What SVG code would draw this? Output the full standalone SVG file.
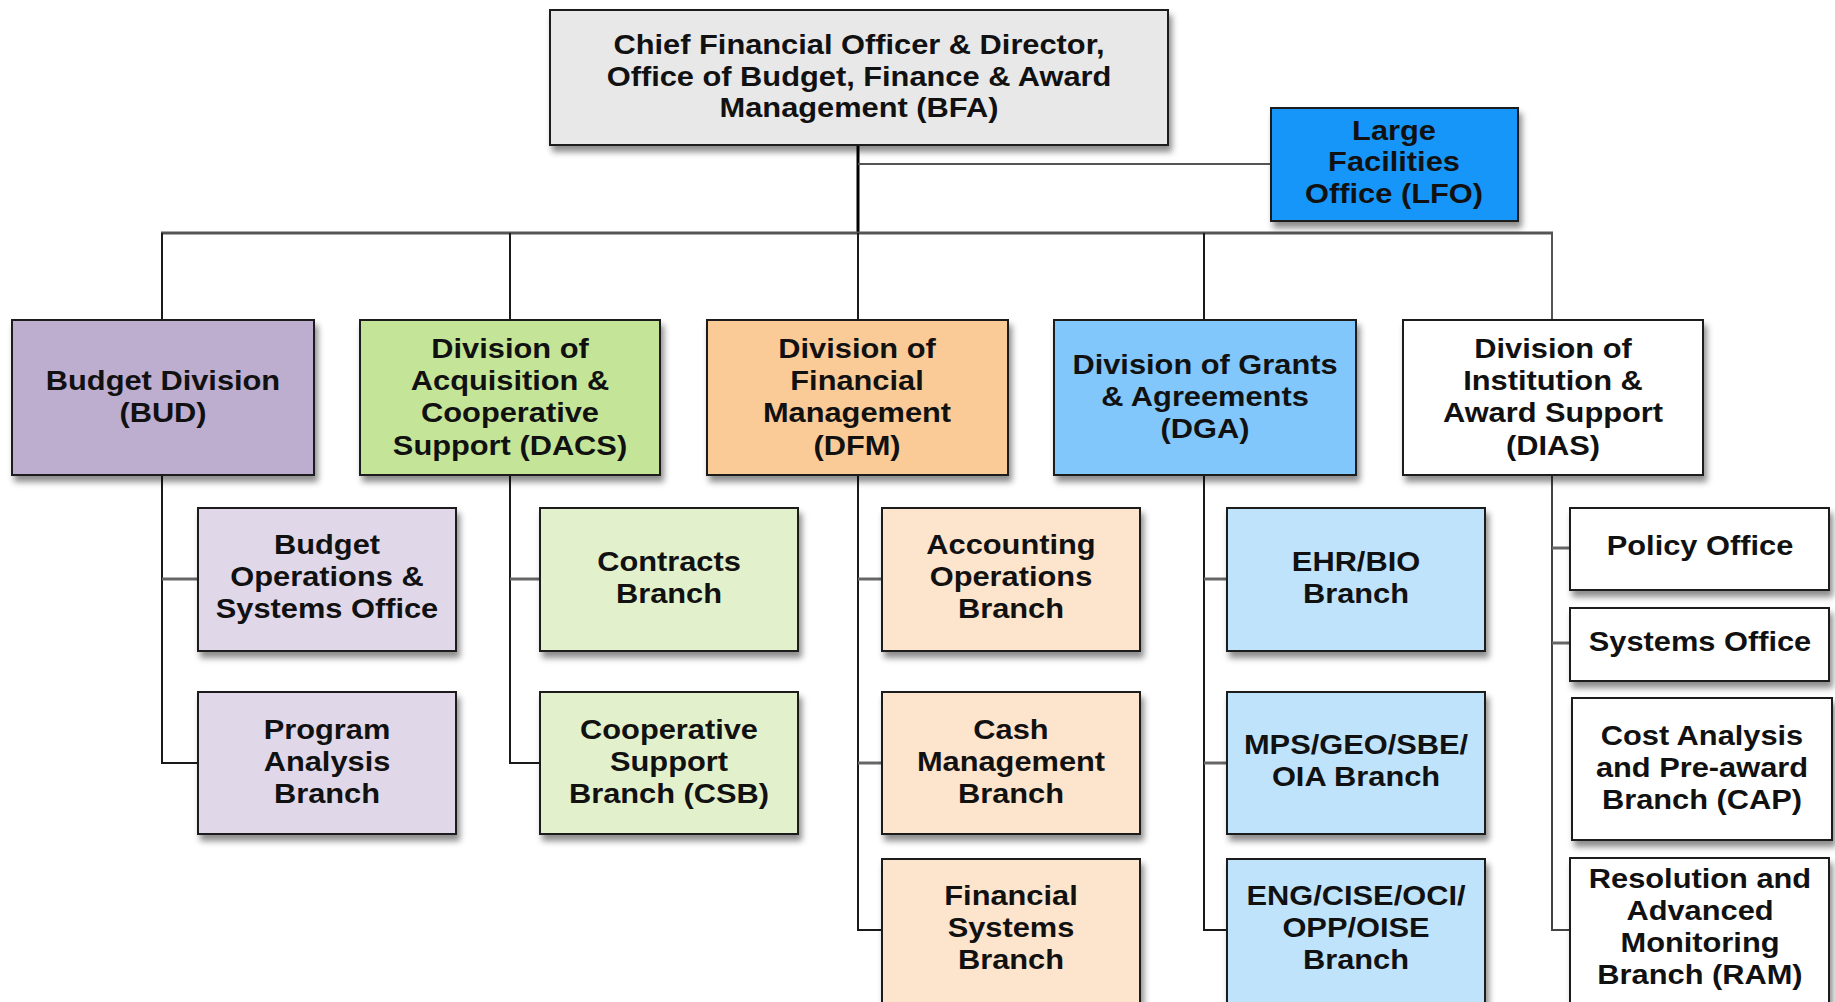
<svg xmlns="http://www.w3.org/2000/svg" width="1835" height="1002" viewBox="0 0 1835 1002">
<defs>
<filter id="sh" x="-10%" y="-10%" width="125%" height="130%">
<feDropShadow dx="3" dy="6" stdDeviation="3" flood-color="#000" flood-opacity="0.45"/>
</filter>
<style>
.box{stroke:#1a1a1a;stroke-width:2;filter:url(#sh)}
.t{font-family:"Liberation Sans",Arial,sans-serif;font-weight:bold;font-size:28px;fill:#111;text-anchor:middle;dominant-baseline:central}
.bus{stroke:#555;stroke-width:3;fill:none}
.vl{stroke:#1a1a1a;stroke-width:2;fill:none}
.stub{stroke:#666;stroke-width:3;fill:none}
</style>
</defs>
<rect width="1835" height="1002" fill="#fff"/>
<g id="connectors">
<line class="vl" x1="858" y1="145" x2="858" y2="233" style="stroke-width:3;stroke:#000"/>
<line class="bus" x1="858" y1="164" x2="1271" y2="164" style="stroke-width:2"/>
<line class="bus" x1="161" y1="233" x2="1553" y2="233"/>
<line class="vl" x1="162" y1="233" x2="162" y2="320"/>
<line class="vl" x1="510" y1="233" x2="510" y2="320"/>
<line class="vl" x1="858" y1="233" x2="858" y2="320"/>
<line class="vl" x1="1204" y1="233" x2="1204" y2="320"/>
<line class="vl" x1="1552" y1="233" x2="1552" y2="320" style="stroke:#555"/>
<polyline class="vl" points="162,475 162,763 198,763"/>
<line class="stub" x1="162" y1="579" x2="198" y2="579"/>
<polyline class="vl" points="510,475 510,763 540,763"/>
<line class="stub" x1="510" y1="579" x2="540" y2="579"/>
<polyline class="vl" points="858,475 858,930 882,930"/>
<line class="stub" x1="858" y1="579" x2="882" y2="579"/>
<line class="stub" x1="858" y1="763" x2="882" y2="763"/>
<polyline class="vl" points="1204,475 1204,930 1227,930"/>
<line class="stub" x1="1204" y1="579" x2="1227" y2="579"/>
<line class="stub" x1="1204" y1="763" x2="1227" y2="763"/>
<polyline class="vl" points="1552,475 1552,930 1570,930" style="stroke:#444"/>
<line class="stub" x1="1552" y1="548" x2="1570" y2="548"/>
<line class="stub" x1="1552" y1="643" x2="1570" y2="643"/>
</g>
<g id="bfa">
<rect class="box" x="550" y="10" width="618" height="135" fill="#e8e8e8"/>
<g transform="translate(859 0) scale(1.1 1)">
<text class="t" x="0" y="44">Chief Financial Officer &amp; Director,</text>
<text class="t" x="0" y="76">Office of Budget, Finance &amp; Award</text>
<text class="t" x="0" y="107">Management (BFA)</text>
</g>
</g>
<g id="lfo">
<rect class="box" x="1271" y="108" width="247" height="113" fill="#1296f8"/>
<g transform="translate(1394 0) scale(1.1 1)">
<text class="t" x="0" y="130">Large</text>
<text class="t" x="0" y="161">Facilities</text>
<text class="t" x="0" y="193">Office (LFO)</text>
</g>
</g>
<g id="bud">
<rect class="box" x="12" y="320" width="302" height="155" fill="#bdadce"/>
<g transform="translate(163 0) scale(1.1 1)">
<text class="t" x="0" y="380">Budget Division</text>
<text class="t" x="0" y="412">(BUD)</text>
</g>
</g>
<g id="dacs">
<rect class="box" x="360" y="320" width="300" height="155" fill="#c4e598"/>
<g transform="translate(510 0) scale(1.1 1)">
<text class="t" x="0" y="348">Division of</text>
<text class="t" x="0" y="380">Acquisition &amp;</text>
<text class="t" x="0" y="412">Cooperative</text>
<text class="t" x="0" y="445">Support (DACS)</text>
</g>
</g>
<g id="dfm">
<rect class="box" x="707" y="320" width="301" height="155" fill="#facb96"/>
<g transform="translate(857 0) scale(1.1 1)">
<text class="t" x="0" y="348">Division of</text>
<text class="t" x="0" y="380">Financial</text>
<text class="t" x="0" y="412">Management</text>
<text class="t" x="0" y="445">(DFM)</text>
</g>
</g>
<g id="dga">
<rect class="box" x="1054" y="320" width="302" height="155" fill="#82c7fc"/>
<g transform="translate(1205 0) scale(1.1 1)">
<text class="t" x="0" y="364">Division of Grants</text>
<text class="t" x="0" y="396">&amp; Agreements</text>
<text class="t" x="0" y="428">(DGA)</text>
</g>
</g>
<g id="dias">
<rect class="box" x="1403" y="320" width="300" height="155" fill="#ffffff"/>
<g transform="translate(1553 0) scale(1.1 1)">
<text class="t" x="0" y="348">Division of</text>
<text class="t" x="0" y="380">Institution &amp;</text>
<text class="t" x="0" y="412">Award Support</text>
<text class="t" x="0" y="445">(DIAS)</text>
</g>
</g>
<g id="bud-ops">
<rect class="box" x="198" y="508" width="258" height="143" fill="#e0d8e8"/>
<g transform="translate(327 0) scale(1.1 1)">
<text class="t" x="0" y="544">Budget</text>
<text class="t" x="0" y="576">Operations &amp;</text>
<text class="t" x="0" y="608">Systems Office</text>
</g>
</g>
<g id="bud-pab">
<rect class="box" x="198" y="692" width="258" height="142" fill="#e0d8e8"/>
<g transform="translate(327 0) scale(1.1 1)">
<text class="t" x="0" y="729">Program</text>
<text class="t" x="0" y="761">Analysis</text>
<text class="t" x="0" y="793">Branch</text>
</g>
</g>
<g id="dacs-cb">
<rect class="box" x="540" y="508" width="258" height="143" fill="#e2f0cc"/>
<g transform="translate(669 0) scale(1.1 1)">
<text class="t" x="0" y="561">Contracts</text>
<text class="t" x="0" y="593">Branch</text>
</g>
</g>
<g id="dacs-csb">
<rect class="box" x="540" y="692" width="258" height="142" fill="#e2f0cc"/>
<g transform="translate(669 0) scale(1.1 1)">
<text class="t" x="0" y="729">Cooperative</text>
<text class="t" x="0" y="761">Support</text>
<text class="t" x="0" y="793">Branch (CSB)</text>
</g>
</g>
<g id="dfm-aob">
<rect class="box" x="882" y="508" width="258" height="143" fill="#fde4cc"/>
<g transform="translate(1011 0) scale(1.1 1)">
<text class="t" x="0" y="544">Accounting</text>
<text class="t" x="0" y="576">Operations</text>
<text class="t" x="0" y="608">Branch</text>
</g>
</g>
<g id="dfm-cmb">
<rect class="box" x="882" y="692" width="258" height="142" fill="#fde4cc"/>
<g transform="translate(1011 0) scale(1.1 1)">
<text class="t" x="0" y="729">Cash</text>
<text class="t" x="0" y="761">Management</text>
<text class="t" x="0" y="793">Branch</text>
</g>
</g>
<g id="dfm-fsb">
<rect class="box" x="882" y="859" width="258" height="150" fill="#fde4cc"/>
<g transform="translate(1011 0) scale(1.1 1)">
<text class="t" x="0" y="895">Financial</text>
<text class="t" x="0" y="927">Systems</text>
<text class="t" x="0" y="959">Branch</text>
</g>
</g>
<g id="dga-ehr">
<rect class="box" x="1227" y="508" width="258" height="143" fill="#c0e3fc"/>
<g transform="translate(1356 0) scale(1.1 1)">
<text class="t" x="0" y="561">EHR/BIO</text>
<text class="t" x="0" y="593">Branch</text>
</g>
</g>
<g id="dga-mps">
<rect class="box" x="1227" y="692" width="258" height="142" fill="#c0e3fc"/>
<g transform="translate(1356 0) scale(1.1 1)">
<text class="t" x="0" y="744">MPS/GEO/SBE/</text>
<text class="t" x="0" y="776">OIA Branch</text>
</g>
</g>
<g id="dga-eng">
<rect class="box" x="1227" y="859" width="258" height="150" fill="#c0e3fc"/>
<g transform="translate(1356 0) scale(1.1 1)">
<text class="t" x="0" y="895">ENG/CISE/OCI/</text>
<text class="t" x="0" y="927">OPP/OISE</text>
<text class="t" x="0" y="959">Branch</text>
</g>
</g>
<g id="dias-policy">
<rect class="box" x="1570" y="508" width="259" height="82" fill="#ffffff"/>
<g transform="translate(1700 0) scale(1.1 1)">
<text class="t" x="0" y="545">Policy Office</text>
</g>
</g>
<g id="dias-systems">
<rect class="box" x="1570" y="608" width="259" height="73" fill="#ffffff"/>
<g transform="translate(1700 0) scale(1.1 1)">
<text class="t" x="0" y="641">Systems Office</text>
</g>
</g>
<g id="dias-cap">
<rect class="box" x="1572" y="698" width="260" height="142" fill="#ffffff"/>
<g transform="translate(1702 0) scale(1.1 1)">
<text class="t" x="0" y="735">Cost Analysis</text>
<text class="t" x="0" y="767">and Pre-award</text>
<text class="t" x="0" y="799">Branch (CAP)</text>
</g>
</g>
<g id="dias-ram">
<rect class="box" x="1570" y="858" width="259" height="150" fill="#ffffff"/>
<g transform="translate(1700 0) scale(1.1 1)">
<text class="t" x="0" y="878">Resolution and</text>
<text class="t" x="0" y="910">Advanced</text>
<text class="t" x="0" y="942">Monitoring</text>
<text class="t" x="0" y="974">Branch (RAM)</text>
</g>
</g>
</svg>
